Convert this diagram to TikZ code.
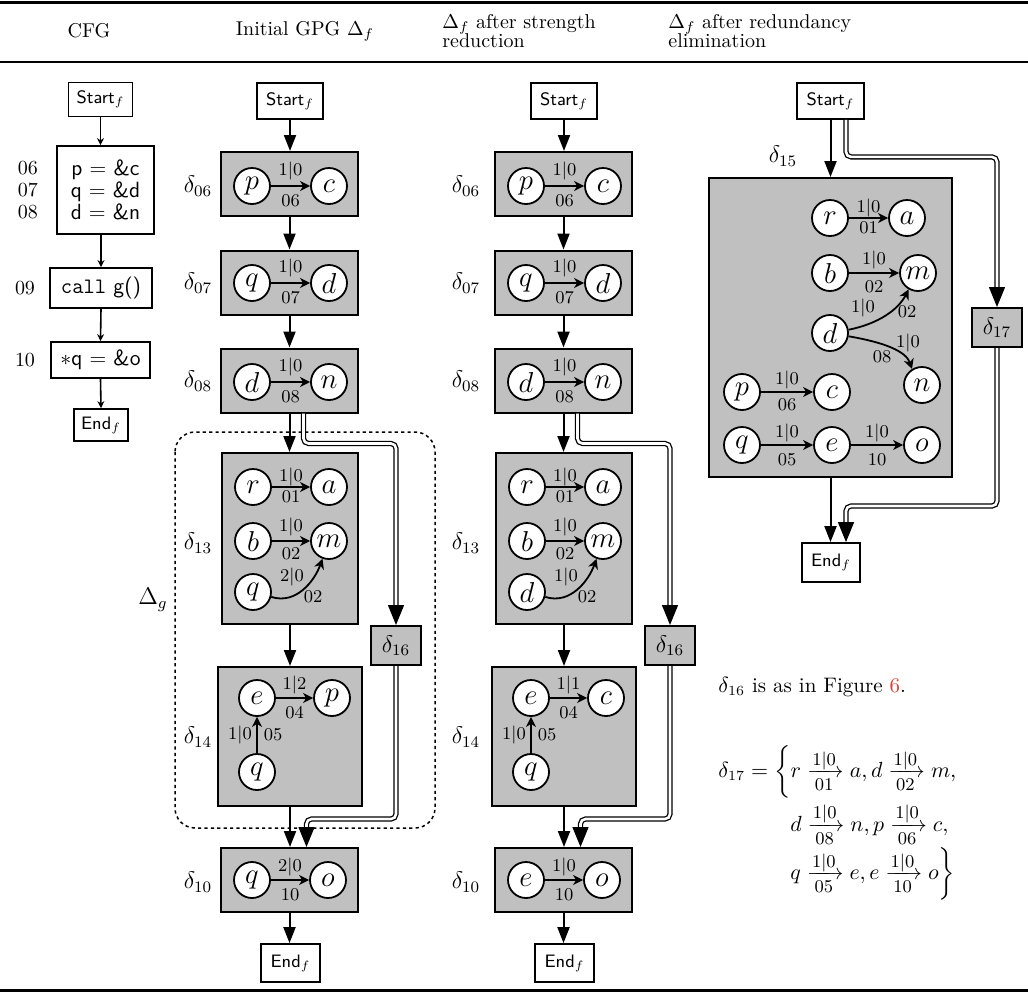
\documentclass[tikz,border=0pt]{standalone}
\usepackage{amsmath}
\usetikzlibrary{arrows.meta}
\definecolor{figred}{RGB}{228,60,50}
\definecolor{blkgray}{RGB}{192,192,192}
\newcommand\uplab[1]{\raisebox{0pt}[\height][1pt]{\small $#1$}}
\newcommand\dnlab[1]{\raisebox{0pt}[\dimexpr\height-1.5pt\relax][\depth]{\small #1}}
\newcommand\arlab[2]{\xrightarrow[{\dnlab{#2}}]{\uplab{#1}}}
\begin{document}
\begin{tikzpicture}[x=0.5pt,y=-0.5pt,
  blk/.style={draw, line width=1pt, fill=blkgray, inner sep=0pt},
  vtx/.style={circle, draw, line width=0.9pt, fill=white, minimum size=18pt, inner sep=0pt, font=\fontsize{13.5}{14}\selectfont},
  term/.style={draw, line width=0.9pt, fill=white, inner sep=0pt, font=\small\sffamily},
  cbox/.style={draw, line width=0.9pt, fill=white, inner sep=0pt, font=\fontsize{11}{11}\selectfont\sffamily},
  flow/.style={line width=1pt, -{Triangle[length=8pt,width=6pt]}},
  dflow/.style={double, line width=0.65pt, double distance=1.3pt, rounded corners=2.5pt, -{Triangle[length=10pt,width=8pt]}},
  arr/.style={line width=0.9pt, -{Stealth[length=5pt,width=5pt,inset=1.5pt]}},
  cfa/.style={line width=0.8pt, -{Stealth[length=3.5pt,width=3.5pt]}},
  lab/.style={font=\small, inner sep=0pt},
  dlab/.style={font=\large, inner sep=0pt},
  txt/.style={anchor=west, inner sep=0pt, font=\fontsize{10.5}{12}\selectfont},
  hdr/.style={inner sep=0pt}]
\useasboundingbox (0,0) rectangle (1028,1003);

% rules
\draw[line width=1.5pt] (0,2) -- (1028,2);
\draw[line width=1pt] (0,62) -- (1028,62);
\draw[line width=1.5pt] (0,990) -- (1028,990);

% headers
\node[hdr] (h1) at (89,31) {CFG};
\node[hdr] (h2) at (305,31) {Initial GPG $\Delta_f$};
\node[hdr, anchor=west, align=left] (h3) at (442,31) {$\Delta_f$ after strength\\[-2.5pt]reduction};
\node[hdr, anchor=west, align=left] (h4) at (668,31) {$\Delta_f$ after redundancy\\[-2.5pt]elimination};

% ---------------- CFG ----------------
\node[term, minimum width=32pt, minimum height=17pt] (gS) at (100.5,99.5) {Start$_f$};
\node[cbox, minimum width=48.5pt, minimum height=44pt, align=center] (gB1) at (105.5,190) {p = \&c\\q = \&d\\d = \&n};
\node[cbox, minimum width=51pt, minimum height=20pt] (gB2) at (101,288) {\texttt{call} g()};
\node[cbox, minimum width=49.5pt, minimum height=18pt] (gB3) at (100.5,360) {$\ast$q = \&o};
\node[term, minimum width=27pt, minimum height=16pt] (gE) at (101,425) {End$_f$};
\node[inner sep=0pt, align=right, font=\fontsize{10}{11}\selectfont] (gl1) at (28,190) {06\\07\\08};
\node[inner sep=0pt] (gl2) at (25,288) {09};
\node[inner sep=0pt] (gl3) at (25,360) {10};
\draw[cfa] (gS.south) -- (gS.south |- gB1.north);
\draw[cfa] (gB1.south -| gB2.north) -- (gB2.north);
\draw[cfa] (gB2.south) -- (gB3.north);
\draw[cfa] (gB3.south) -- (gE.north);

% ---------------- Column 2 ----------------
\draw[line width=0.75pt, dash pattern=on 1.6pt off 1.6pt, rounded corners=10pt] (175,432) rectangle (435,828);
\node[font=\large, inner sep=0pt] (dg) at (153,600) {$\Delta_g$};

\node[term, minimum width=33pt, minimum height=18pt] (aS) at (290,101) {Start$_f$};

\node[blk, minimum width=68.5pt, minimum height=32pt] (a06) at (289.5,184) {};
\node[vtx] (a06p) at (252,186) {$p$};
\node[vtx] (a06c) at (329,186) {$c$};
\draw[arr] (a06p) -- node[lab,yshift=7.5pt]{$1|0$} node[lab,yshift=-7.5pt]{06} (a06c);
\node[dlab] (a06l) at (198,186) {$\delta_{06}$};

\node[blk, minimum width=68.5pt, minimum height=32pt] (a07) at (289.5,282.5) {};
\node[vtx] (a07q) at (252,283) {$q$};
\node[vtx] (a07d) at (329,283) {$d$};
\draw[arr] (a07q) -- node[lab,yshift=7.5pt]{$1|0$} node[lab,yshift=-7.5pt]{07} (a07d);
\node[dlab] (a07l) at (198,283) {$\delta_{07}$};

\node[blk, minimum width=68.5pt, minimum height=32pt] (a08) at (289.5,380.5) {};
\node[vtx] (a08d) at (252,382) {$d$};
\node[vtx] (a08n) at (329,382) {$n$};
\draw[arr] (a08d) -- node[lab,yshift=7.5pt]{$1|0$} node[lab,yshift=-7.5pt]{08} (a08n);
\node[dlab] (a08l) at (198,381) {$\delta_{08}$};

\node[blk, minimum width=68pt, minimum height=85.5pt] (a13) at (290,538.5) {};
\node[vtx] (a13r) at (253,487) {$r$};
\node[vtx] (a13a) at (329,487) {$a$};
\node[vtx] (a13b) at (253,541) {$b$};
\node[vtx] (a13m) at (329,541) {$m$};
\node[vtx] (a13q) at (253,592) {$q$};
\draw[arr] (a13r) -- node[lab,yshift=5pt]{$1|0$} node[lab,yshift=-4.7pt]{01} (a13a);
\draw[arr] (a13b) -- node[lab,yshift=7pt]{$1|0$} node[lab,yshift=-6.5pt]{02} (a13m);
\draw[arr] (a13q.-15) .. controls +(25,8) and +(-8,22) .. (a13m.250)
   node[lab] at (292,577) {$2|0$} node[lab] at (313,597) {02};
\node[dlab] (a13l) at (198,543) {$\delta_{13}$};

\node[blk, minimum width=72pt, minimum height=69.5pt] (a14) at (290,736.5) {};
\node[vtx] (a14e) at (257,698) {$e$};
\node[vtx] (a14p) at (332,698) {$p$};
\node[vtx] (a14q) at (257,772) {$q$};
\draw[arr] (a14e) -- node[lab,yshift=6.5pt]{$1|2$} node[lab,yshift=-7.5pt]{04} (a14p);
\draw[arr] (a14q) -- node[lab,xshift=-8.5pt]{$1|0$} node[lab,xshift=8pt]{05} (a14e);
\node[dlab] (a14l) at (198,737) {$\delta_{14}$};

\node[blk, minimum width=25pt, minimum height=19.5pt, font=\large] (a16) at (396,645.5) {$\delta_{16}$};

\node[blk, minimum width=68.5pt, minimum height=32pt] (a10) at (289.5,880) {};
\node[vtx] (a10q) at (252,880) {$q$};
\node[vtx] (a10o) at (328,880) {$o$};
\draw[arr] (a10q) -- node[lab,yshift=6.5pt]{$2|0$} node[lab,yshift=-7.5pt]{10} (a10o);
\node[dlab] (a10l) at (198,882) {$\delta_{10}$};

\node[term, minimum width=29.5pt, minimum height=19pt] (aE) at (290.5,963) {End$_f$};

\draw[flow] (aS.south) -- (aS.south |- a06.north);
\draw[flow] (a06.south) -- (a07.north);
\draw[flow] (a07.south) -- (a08.north);
\draw[flow] (a08.south) -- (a08.south |- a13.north);
\draw[dflow] ([xshift=7pt]a08.south) -- ++(0,30) -| (a16.north);
\draw[flow] (a13.south) -- (a14.north);
\draw[flow] (a14.south) -- (a14.south |- a10.north);
\draw[dflow] (a16.south) -- ++(0,153) -| ([xshift=8.5pt]a10.north);
\draw[flow] (a10.south) -- (a10.south |- aE.north);

% ---------------- Column 3 ----------------
\node[term, minimum width=33pt, minimum height=18pt] (bS) at (564,101) {Start$_f$};

\node[blk, minimum width=68.5pt, minimum height=32pt] (b06) at (563.5,184) {};
\node[vtx] (b06p) at (526,186) {$p$};
\node[vtx] (b06c) at (603,186) {$c$};
\draw[arr] (b06p) -- node[lab,yshift=7.5pt]{$1|0$} node[lab,yshift=-7.5pt]{06} (b06c);
\node[dlab] (b06l) at (466,186) {$\delta_{06}$};

\node[blk, minimum width=68.5pt, minimum height=32pt] (b07) at (563.5,282.5) {};
\node[vtx] (b07q) at (526,283) {$q$};
\node[vtx] (b07d) at (603,283) {$d$};
\draw[arr] (b07q) -- node[lab,yshift=7.5pt]{$1|0$} node[lab,yshift=-7.5pt]{07} (b07d);
\node[dlab] (b07l) at (466,283) {$\delta_{07}$};

\node[blk, minimum width=68.5pt, minimum height=32pt] (b08) at (563.5,380.5) {};
\node[vtx] (b08d) at (526,382) {$d$};
\node[vtx] (b08n) at (603,382) {$n$};
\draw[arr] (b08d) -- node[lab,yshift=7.5pt]{$1|0$} node[lab,yshift=-7.5pt]{08} (b08n);
\node[dlab] (b08l) at (466,381) {$\delta_{08}$};

\node[blk, minimum width=68pt, minimum height=85.5pt] (b13) at (564,538.5) {};
\node[vtx] (b13r) at (527,487) {$r$};
\node[vtx] (b13a) at (603,487) {$a$};
\node[vtx] (b13b) at (527,541) {$b$};
\node[vtx] (b13m) at (603,541) {$m$};
\node[vtx] (b13d) at (527,592) {$d$};
\draw[arr] (b13r) -- node[lab,yshift=5pt]{$1|0$} node[lab,yshift=-4.7pt]{01} (b13a);
\draw[arr] (b13b) -- node[lab,yshift=7pt]{$1|0$} node[lab,yshift=-6.5pt]{02} (b13m);
\draw[arr] (b13d.-15) .. controls +(25,8) and +(-8,22) .. (b13m.250)
   node[lab] at (566,577) {$1|0$} node[lab] at (587,597) {02};
\node[dlab] (b13l) at (466,543) {$\delta_{13}$};

\node[blk, minimum width=72pt, minimum height=69.5pt] (b14) at (564,736.5) {};
\node[vtx] (b14e) at (531,698) {$e$};
\node[vtx] (b14c) at (606,698) {$c$};
\node[vtx] (b14q) at (531,772) {$q$};
\draw[arr] (b14e) -- node[lab,yshift=6.5pt]{$1|1$} node[lab,yshift=-7.5pt]{04} (b14c);
\draw[arr] (b14q) -- node[lab,xshift=-8.5pt]{$1|0$} node[lab,xshift=8pt]{05} (b14e);
\node[dlab] (b14l) at (466,737) {$\delta_{14}$};

\node[blk, minimum width=25pt, minimum height=19.5pt, font=\large] (b16) at (670,645.5) {$\delta_{16}$};

\node[blk, minimum width=68.5pt, minimum height=32pt] (b10) at (563.5,880) {};
\node[vtx] (b10e) at (526,880) {$e$};
\node[vtx] (b10o) at (602,880) {$o$};
\draw[arr] (b10e) -- node[lab,yshift=6.5pt]{$1|0$} node[lab,yshift=-7.5pt]{10} (b10o);
\node[dlab] (b10l) at (466,882) {$\delta_{10}$};

\node[term, minimum width=29.5pt, minimum height=19pt] (bE) at (564.5,963) {End$_f$};

\draw[flow] (bS.south) -- (bS.south |- b06.north);
\draw[flow] (b06.south) -- (b07.north);
\draw[flow] (b07.south) -- (b08.north);
\draw[flow] (b08.south) -- (b08.south |- b13.north);
\draw[dflow] ([xshift=7pt]b08.south) -- ++(0,30) -| (b16.north);
\draw[flow] (b13.south) -- (b14.north);
\draw[flow] (b14.south) -- (b14.south |- b10.north);
\draw[dflow] (b16.south) -- ++(0,153) -| ([xshift=8.5pt]b10.north);
\draw[flow] (b10.south) -- (b10.south |- bE.north);

% ---------------- Column 4 ----------------
\node[term, minimum width=33.5pt, minimum height=18pt] (cS) at (830.5,101) {Start$_f$};
\node[blk, minimum width=121.5pt, minimum height=149.5pt] (c15) at (830.5,327.5) {};
\node[dlab] (c15l) at (783,156) {$\delta_{15}$};
\node[vtx] (c15r) at (830,218) {$r$};
\node[vtx] (c15a) at (907,218) {$a$};
\node[vtx] (c15b) at (830,273) {$b$};
\node[vtx] (c15m) at (918,273) {$m$};
\node[vtx] (c15d) at (830,333) {$d$};
\node[vtx] (c15n) at (922,385) {$n$};
\node[vtx] (c15p) at (742,392) {$p$};
\node[vtx] (c15c) at (832,392) {$c$};
\node[vtx] (c15q) at (742,445) {$q$};
\node[vtx] (c15e) at (832,445) {$e$};
\node[vtx] (c15o) at (922,445) {$o$};
\draw[arr] (c15r) -- node[lab,yshift=5pt]{$1|0$} node[lab,yshift=-4.7pt]{01} (c15a);
\draw[arr] (c15b) -- node[lab,yshift=6.5pt]{$1|0$} node[lab,yshift=-7pt]{02} (c15m);
\draw[arr] (c15d.10) .. controls +(30,-6) and +(-10,20) .. (c15m.240)
   node[lab] at (863,308) {$1|0$} node[lab] at (907,312) {02};
\draw[arr] (c15d.-10) .. controls +(35,6) and +(-6,-18) .. (c15n.122)
   node[lab] at (908,343) {$1|0$} node[lab] at (882,357) {08};
\draw[arr] (c15p) -- node[lab,yshift=6pt]{$1|0$} node[lab,yshift=-6.5pt]{06} (c15c);
\draw[arr] (c15q) -- node[lab,yshift=6pt]{$1|0$} node[lab,yshift=-7.5pt]{05} (c15e);
\draw[arr] (c15e) -- node[lab,yshift=6pt]{$1|0$} node[lab,yshift=-7.5pt]{10} (c15o);

\node[blk, minimum width=25pt, minimum height=19.5pt, font=\large] (c17) at (997,327.5) {$\delta_{17}$};
\node[term, minimum width=29pt, minimum height=19.5pt] (cE) at (831,562.5) {End$_f$};

\draw[flow] (cS.south) -- (cS.south |- c15.north);
\draw[dflow] ([xshift=7.75pt]cS.south) -- ++(0,37) -| (c17.north);
\draw[flow] (c15.south) -- (c15.south |- cE.north);
\draw[dflow] (c17.south) -- ++(0,158) -| ([xshift=7.5pt]cE.north);

% text
\node[txt] (t16) at (718,687) {$\delta_{16}$ is as in Figure \textcolor{figred}{6}.};
\node[txt] (eq1) at (718,772) {$\delta_{17} = \bigg\{ r \arlab{1|0}{01} a, d \arlab{1|0}{02} m,$};
\node[txt] (eq2) at (790,825) {$d \arlab{1|0}{08} n, p \arlab{1|0}{06} c,$};
\node[txt] (eq3) at (790,874) {$q \arlab{1|0}{05} e, e \arlab{1|0}{10} o\bigg\}$};
\end{tikzpicture}
\end{document}
